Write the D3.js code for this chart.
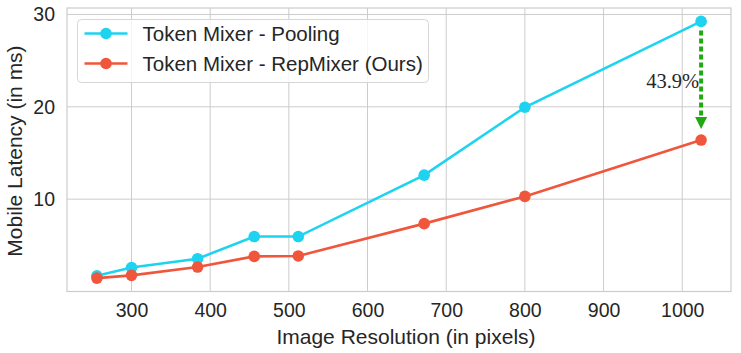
<!DOCTYPE html>
<html>
<head>
<meta charset="utf-8">
<script src="https://cdn.jsdelivr.net/npm/d3@7"></script>
<style>
  body { margin: 0; background: #fff; }
  text { font-family: "Liberation Sans", Arial, sans-serif; fill: #262626; }
</style>
</head>
<body>
<div id="chart"></div>
<script>
var resolutions = [256, 300, 384, 456, 512, 672, 800, 1024];
var pooling = [1.7, 2.6, 3.55, 5.95, 5.95, 12.6, 19.95, 29.25];
var repmixer = [1.45, 1.75, 2.65, 3.8, 3.85, 7.35, 10.3, 16.4];
var xTicks = [300, 400, 500, 600, 700, 800, 900, 1000];
var yTicks = [10, 20, 30];
var seriesNames = ["Token Mixer - Pooling", "Token Mixer - RepMixer (Ours)"];
var seriesColors = ["#1dd3f0", "#f0563b"];
var gainLabel = "43.9%";

var width = 741, height = 353;
var margin = {top: 8, right: 10, bottom: 61.5, left: 67};

var svg = d3.select("#chart").append("svg")
    .attr("width", width)
    .attr("height", height);

var x = d3.scaleLinear().domain([218, 1062]).range([margin.left, width - margin.right]);
var y = d3.scaleLinear().domain([0, 30.7]).range([height - margin.bottom, margin.top]);

// grid
svg.append("g").selectAll("line")
    .data(xTicks)
    .enter().append("line")
    .attr("x1", function(d) { return x(d); })
    .attr("x2", function(d) { return x(d); })
    .attr("y1", margin.top)
    .attr("y2", height - margin.bottom)
    .attr("stroke", "#cccccc")
    .attr("stroke-width", 1);

svg.append("g").selectAll("line")
    .data(yTicks)
    .enter().append("line")
    .attr("x1", margin.left)
    .attr("x2", width - margin.right)
    .attr("y1", function(d) { return y(d); })
    .attr("y2", function(d) { return y(d); })
    .attr("stroke", "#cccccc")
    .attr("stroke-width", 1);

// frame
svg.append("rect")
    .attr("x", margin.left)
    .attr("y", margin.top)
    .attr("width", width - margin.right - margin.left)
    .attr("height", height - margin.bottom - margin.top)
    .attr("fill", "none")
    .attr("stroke", "#cccccc")
    .attr("stroke-width", 1.2);

// axes (labels only)
var xaxis = svg.append("g")
    .attr("transform", "translate(0," + (height - margin.bottom) + ")")
    .call(d3.axisBottom(x).tickValues(xTicks).tickFormat(d3.format("d")).tickSize(0).tickPadding(12));
xaxis.select(".domain").remove();
xaxis.selectAll("text").style("font-size", "19.5px").attr("fill", "#262626");

var yaxis = svg.append("g")
    .attr("transform", "translate(" + margin.left + ",0)")
    .call(d3.axisLeft(y).tickValues(yTicks).tickSize(0).tickPadding(12));
yaxis.select(".domain").remove();
yaxis.selectAll("text").style("font-size", "19.5px").attr("fill", "#262626");

svg.append("text")
    .attr("x", 406)
    .attr("y", 344)
    .attr("text-anchor", "middle")
    .style("font-size", "21px")
    .text("Image Resolution (in pixels)");

svg.append("text")
    .attr("transform", "translate(22,151) rotate(-90)")
    .attr("text-anchor", "middle")
    .style("font-size", "21px")
    .text("Mobile Latency (in ms)");

// lines
var series = [pooling, repmixer];
var line = d3.line()
    .x(function(d, i) { return x(resolutions[i]); })
    .y(function(d) { return y(d); });

series.forEach(function(vals, k) {
    svg.append("path")
        .datum(vals)
        .attr("d", line)
        .attr("fill", "none")
        .attr("stroke", seriesColors[k])
        .attr("stroke-width", 2.6);
    svg.append("g").selectAll("circle")
        .data(vals)
        .enter().append("circle")
        .attr("cx", function(d, i) { return x(resolutions[i]); })
        .attr("cy", function(d) { return y(d); })
        .attr("r", 5.8)
        .attr("fill", seriesColors[k]);
});

// arrow from pooling to repmixer at last point
var last = resolutions.length - 1;
var ax = x(resolutions[last]);
var yStart = y(pooling[last]) + 9;
var yTip = y(repmixer[last]) - 11;
svg.append("line")
    .attr("x1", ax).attr("x2", ax)
    .attr("y1", yStart).attr("y2", yTip - 10)
    .attr("stroke", "#22a812")
    .attr("stroke-width", 4)
    .attr("stroke-dasharray", "5,3");
svg.append("path")
    .attr("d", "M" + (ax - 6) + "," + (yTip - 12) + "L" + (ax + 6) + "," + (yTip - 12) + "L" + ax + "," + yTip + "Z")
    .attr("fill", "#22a812");

svg.append("text")
    .attr("x", ax - 2)
    .attr("y", 88)
    .attr("text-anchor", "end")
    .style("font-family", "'Liberation Serif', 'Times New Roman', serif")
    .style("font-size", "20.5px")
    .attr("fill", "#111")
    .text(gainLabel);

// legend
var legend = svg.append("g").attr("transform", "translate(77.5,19.5)");
legend.append("rect")
    .attr("width", 351)
    .attr("height", 63)
    .attr("rx", 4)
    .attr("fill", "#fff")
    .attr("fill-opacity", 0.8)
    .attr("stroke", "#d6d6d6")
    .attr("stroke-width", 1);

seriesNames.forEach(function(name, k) {
    var ly = 14 + k * 30;
    legend.append("line")
        .attr("x1", 7).attr("x2", 50)
        .attr("y1", ly).attr("y2", ly)
        .attr("stroke", seriesColors[k])
        .attr("stroke-width", 2.6);
    legend.append("circle")
        .attr("cx", 28.5).attr("cy", ly)
        .attr("r", 5.8)
        .attr("fill", seriesColors[k]);
    legend.append("text")
        .attr("x", 65)
        .attr("y", ly + 7)
        .style("font-size", "20.5px")
        .text(name);
});
</script>
</body>
</html>
